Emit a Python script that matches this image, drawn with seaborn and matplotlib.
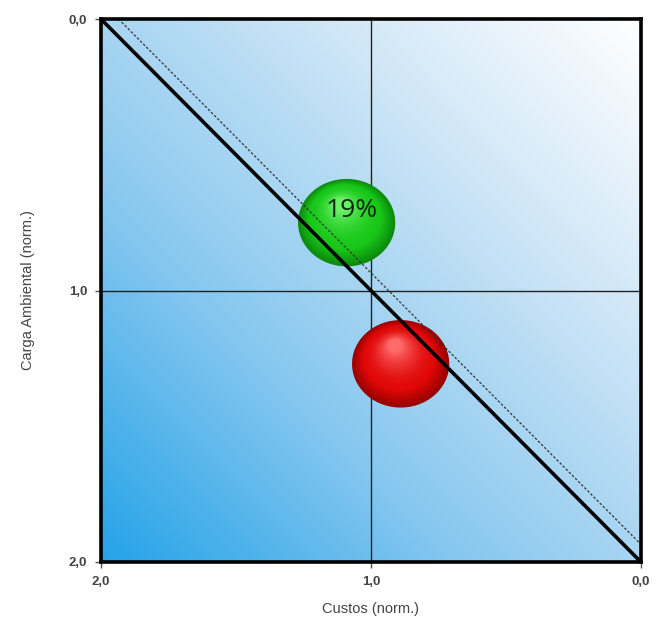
import matplotlib
matplotlib.use('Agg')

import numpy as np
import seaborn as sns
import matplotlib.pyplot as plt
from matplotlib.colors import LinearSegmentedColormap, to_rgb
from matplotlib.path import Path
from matplotlib.transforms import offset_copy
from matplotlib.ticker import FixedLocator, FuncFormatter

# data
custos = [1.09, 0.89]          # x (normalised costs)
carga = [0.75, 1.27]           # y (normalised environmental load)
labels = ['19%', '']
body_colors = ['#18c818', '#e00808']
edge_colors = ['#0c8a0c', '#980000']
light_colors = ['#6cf06c', '#ff6a6a']

diag_x = [2.0, 0.0]
diag_y = [0.0, 2.0]
dash_x = [1.935, 0.0]
dash_y = [0.0, 1.935]
ticks = [0.0, 1.0, 2.0]

sns.set_theme(style='white')
plt.rcParams['font.family'] = ['Liberation Sans', 'DejaVu Sans']

fig = plt.figure(figsize=(6.58, 6.36), dpi=100)
ax = fig.add_axes([0.1535, 0.1164, 0.8205, 0.8536])

# background gradient: blue bottom-left -> white top-right
grad_cmap = LinearSegmentedColormap.from_list(
    'bg', ['#ffffff', '#c8e3f6', '#86c7ef', '#24a3e8'])
n = 300
c = np.linspace(0, 1, n)
r = np.linspace(0, 1, n)
C, R = np.meshgrid(c, r)
t = ((1 - C) + R) / 2.0
ax.imshow(t, cmap=grad_cmap, extent=[2, 0, 2, 0], origin='upper',
          aspect='auto', zorder=0, vmin=0, vmax=1, interpolation='bilinear')

ax.axvline(1.0, color='#222222', lw=1.0, zorder=1)
ax.axhline(1.0, color='#222222', lw=1.0, zorder=1)

# ellipse marker (slightly wider than tall)
th = np.linspace(0, 2 * np.pi, 80)
ell = Path(np.column_stack([np.cos(th), 0.9 * np.sin(th)]), closed=True)

base_size = 70.0  # points, marker width
for i in range(len(custos)):
    edge = np.array(to_rgb(edge_colors[i]))
    body = np.array(to_rgb(body_colors[i]))
    light = np.array(to_rgb(light_colors[i]))
    layers = 26
    for k in range(layers):
        f = k / (layers - 1)
        size = base_size * (1 - 0.85 * f)
        if f < 0.3:
            col = edge + (body - edge) * (f / 0.3)
        else:
            col = body + (light - body) * ((f - 0.3) / 0.7) ** 1.8
        tr = offset_copy(ax.transData, fig=fig, x=-4 * f, y=13 * f,
                         units='points')
        ax.scatter([custos[i]], [carga[i]], s=size ** 2, marker=ell,
                   color=[tuple(col)], edgecolors='none', transform=tr,
                   zorder=4 + k * 0.01, alpha=1.0)
    if labels[i]:
        ax.text(custos[i] - 0.02, carga[i] - 0.045, labels[i], fontsize=19,
                color='#062806', ha='center', va='center', zorder=6,
                family=['Open Sans', 'DejaVu Sans'])

# lines on top of the bubbles
sns.lineplot(x=dash_x, y=dash_y, ax=ax, color='#333333', lw=0.9,
             linestyle=(0, (2, 1.5)), zorder=7, sort=False)
sns.lineplot(x=diag_x, y=diag_y, ax=ax, color='black', lw=2.6,
             zorder=8, sort=False)

ax.set_xlim(2, 0)
ax.set_ylim(2, 0)
ax.xaxis.set_major_locator(FixedLocator(ticks))
ax.yaxis.set_major_locator(FixedLocator(ticks))
fmt = FuncFormatter(lambda v, p: ('%.1f' % v).replace('.', ','))
ax.xaxis.set_major_formatter(fmt)
ax.yaxis.set_major_formatter(fmt)
ax.tick_params(axis='both', direction='out', length=4, width=1,
               color='#555555', labelsize=9.5, labelcolor='#444444', pad=6,
               bottom=True, left=True)
for lab in ax.get_xticklabels() + ax.get_yticklabels():
    lab.set_fontweight('bold')

for s in ax.spines.values():
    s.set_color('black')
    s.set_linewidth(2.6)
    s.set_zorder(10)

ax.set_xlabel('Custos (norm.)', fontsize=10.5, color='#444444', labelpad=10)
ax.set_ylabel('Carga Ambiental (norm.)', fontsize=10.5, color='#444444',
              labelpad=24)

fig.savefig('out.png', dpi=100)
